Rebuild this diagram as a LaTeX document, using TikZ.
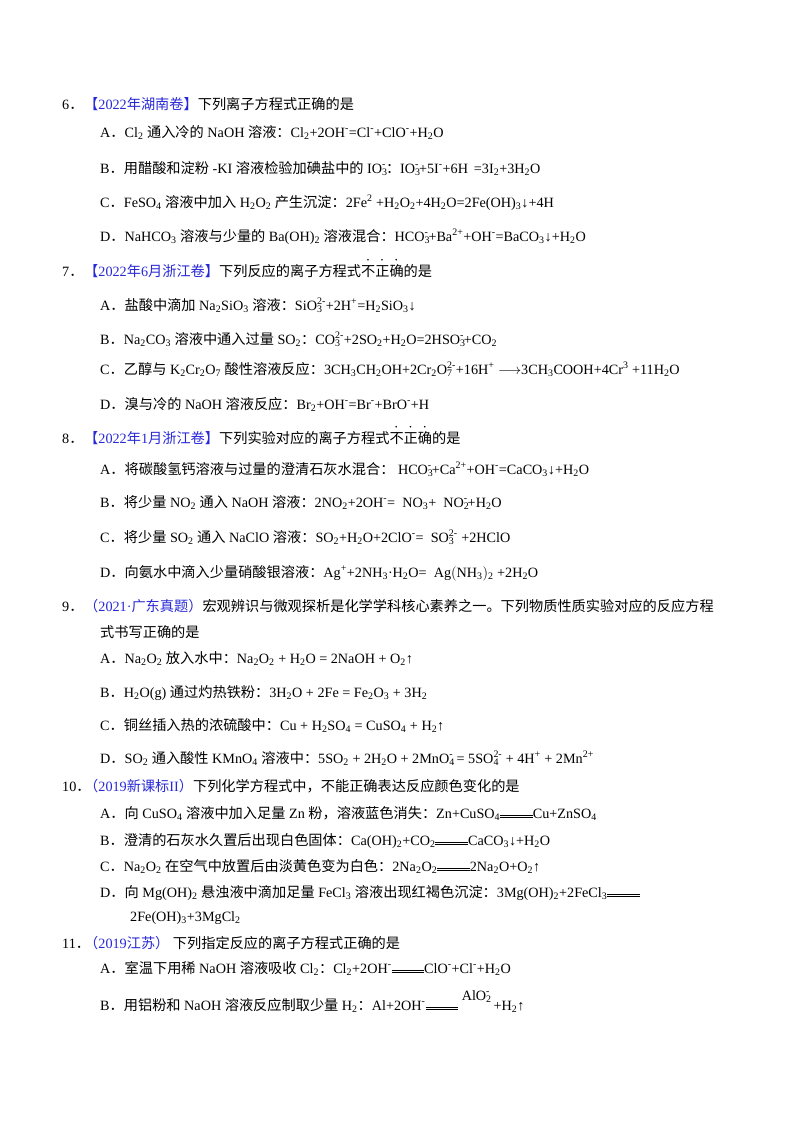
\documentclass[tikz,border=0pt]{standalone}
\usepackage{fontspec}
\setmainfont{Liberation Serif}
\newfontfamily\cjk{Noto Sans CJK SC}
\XeTeXinterchartokenstate=1
\newXeTeXintercharclass\CJKcls
\newcount\cc
\cc="4E00 \loop\XeTeXcharclass\cc=\CJKcls\advance\cc by 1 \ifnum\cc<"9FA6 \repeat
\cc="3000 \loop\XeTeXcharclass\cc=\CJKcls\advance\cc by 1 \ifnum\cc<"3040 \repeat
\cc="FF00 \loop\XeTeXcharclass\cc=\CJKcls\advance\cc by 1 \ifnum\cc<"FFF0 \repeat
\XeTeXinterchartoks 0 \CJKcls = {\cjk}
\XeTeXinterchartoks 4095 \CJKcls = {\cjk}
\XeTeXinterchartoks 255 \CJKcls = {\cjk}
\XeTeXinterchartoks \CJKcls 0 = {\rmfamily}
\XeTeXinterchartoks \CJKcls 4095 = {\rmfamily}
\newcommand\sub[1]{\textsubscript{#1}}
\newcommand\sps[1]{\textsuperscript{#1}}
\newcommand\ion[2]{\rlap{\textsubscript{#1}}\textsuperscript{#2}}
\newcommand\emd[1]{\makebox[0pt][l]{\hspace{0.4em}\raisebox{0.95em}{\fontsize{7}{7}\selectfont\rmfamily\textbullet}}#1}
\newcommand\eqq{\mbox{\rlap{\raisebox{0.42ex}{\rule{2.3em}{0.6pt}}}\raisebox{0.1ex}{\rule{2.3em}{0.6pt}}}}
\definecolor{src}{RGB}{40,40,215}
\tikzset{t/.style={anchor=base west,inner sep=0pt,font=\fontsize{14.2}{16}\selectfont}}
\begin{document}
\begin{tikzpicture}[x=1pt,y=-1pt]
\useasboundingbox (0,0) rectangle (800,1132);
% Q6
\node[t] (n6) at (62,109) {6．};
\node[t] (q6) at (84,109) {\textcolor{src}{【2022年湖南卷】}下列离子方程式正确的是};
\node[t] (q6a) at (100,137) {A．Cl\sub2 通入冷的 NaOH 溶液：Cl\sub2+2OH\sps{-}=Cl\sps{-}+ClO\sps{-}+H\sub2O};
\node[t] (q6b) at (100,173) {B．用醋酸和淀粉 -KI 溶液检验加碘盐中的 IO\ion3{-}：IO\ion3{-}+5I\sps{-}+6H \,=3I\sub2+3H\sub2O};
\node[t] (q6c) at (100,207) {C．FeSO\sub4 溶液中加入 H\sub2O\sub2 产生沉淀：2Fe\sps{2} +H\sub2O\sub2+4H\sub2O=2Fe(OH)\sub3↓+4H};
\node[t] (q6d) at (100,241) {D．NaHCO\sub3 溶液与少量的 Ba(OH)\sub2 溶液混合：HCO\ion3{-}+Ba\sps{2+}+OH\sps{-}=BaCO\sub3↓+H\sub2O};
% Q7
\node[t] (n7) at (62,276) {7．};
\node[t] (q7) at (84,276) {\textcolor{src}{【2022年6月浙江卷】}下列反应的离子方程式\emd{不}\emd{正}\emd{确}的是};
\node[t] (q7a) at (100,310) {A．盐酸中滴加 Na\sub2SiO\sub3 溶液：SiO\ion3{2-}+2H\sps{+}=H\sub2SiO\sub3↓};
\node[t] (q7b) at (100,344) {B．Na\sub2CO\sub3 溶液中通入过量 SO\sub2：CO\ion3{2-}+2SO\sub2+H\sub2O=2HSO\ion3{-}+CO\sub2};
\node[t] (q7c) at (100,374) {C．乙醇与 K\sub2Cr\sub2O\sub7 酸性溶液反应：3CH\sub3CH\sub2OH+2Cr\sub2O\ion7{2-}+16H\sps{+} $\longrightarrow$3CH\sub3COOH+4Cr\sps{3} +11H\sub2O};
\node[t] (q7d) at (100,409) {D．溴与冷的 NaOH 溶液反应：Br\sub2+OH\sps{-}=Br\sps{-}+BrO\sps{-}+H};
% Q8
\node[t] (n8) at (62,443) {8．};
\node[t] (q8) at (84,443) {\textcolor{src}{【2022年1月浙江卷】}下列实验对应的离子方程式\emd{不}\emd{正}\emd{确}的是};
\node[t] (q8a) at (100,474) {A．将碳酸氢钙溶液与过量的澄清石灰水混合：\ \rmfamily HCO\ion3{-}+Ca\sps{2+}+OH\sps{-}=CaCO\sub3↓+H\sub2O};
\node[t] (q8b) at (100,507) {B．将少量 NO\sub2 通入 NaOH 溶液：2NO\sub2+2OH\sps{-}= \ NO\sub3+ \ NO\ion2{-}+H\sub2O};
\node[t] (q8c) at (100,542) {C．将少量 SO\sub2 通入 NaClO 溶液：SO\sub2+H\sub2O+2ClO\sps{-}= \ SO\ion3{2-} +2HClO};
\node[t] (q8d) at (100,577) {D．向氨水中滴入少量硝酸银溶液：Ag\sps{+}+2NH\sub3·H\sub2O= \ Ag$\bigl($NH\sub3$\bigr)$\sub2 +2H\sub2O};
% Q9
\node[t] (n9) at (62,611) {9．};
\node[t] (q9) at (84,611) {\textcolor{src}{（2021·广东真题）}宏观辨识与微观探析是化学学科核心素养之一。下列物质性质实验对应的反应方程};
\node[t] (q9x) at (100,637) {式书写正确的是};
\node[t] (q9a) at (100,663) {A．Na\sub2O\sub2 放入水中：Na\sub2O\sub2 + H\sub2O = 2NaOH + O\sub2↑};
\node[t] (q9b) at (100,697) {B．H\sub2O(g) 通过灼热铁粉：3H\sub2O + 2Fe = Fe\sub2O\sub3 + 3H\sub2};
\node[t] (q9c) at (100,730) {C．铜丝插入热的浓硫酸中：Cu + H\sub2SO\sub4 = CuSO\sub4 + H\sub2↑};
\node[t] (q9d) at (100,763) {D．SO\sub2 通入酸性 KMnO\sub4 溶液中：5SO\sub2 + 2H\sub2O + 2MnO\ion4{-} = 5SO\ion4{2-} + 4H\sps{+} + 2Mn\sps{2+}};
% Q10
\node[t] (n10) at (62,791) {10．};
\node[t] (q10) at (84,791) {\textcolor{src}{（2019新课标II）}下列化学方程式中，不能正确表达反应颜色变化的是};
\node[t] (q10a) at (100,818) {A．向 CuSO\sub4 溶液中加入足量 Zn 粉，溶液蓝色消失：Zn+CuSO\sub4\eqq Cu+ZnSO\sub4};
\node[t] (q10b) at (100,845) {B．澄清的石灰水久置后出现白色固体：Ca(OH)\sub2+CO\sub2\eqq CaCO\sub3↓+H\sub2O};
\node[t] (q10c) at (100,871) {C．Na\sub2O\sub2 在空气中放置后由淡黄色变为白色：2Na\sub2O\sub2\eqq 2Na\sub2O+O\sub2↑};
\node[t] (q10d) at (100,897) {D．向 Mg(OH)\sub2 悬浊液中滴加足量 FeCl\sub3 溶液出现红褐色沉淀：3Mg(OH)\sub2+2FeCl\sub3\eqq};
\node[t] (q10x) at (130,921) {2Fe(OH)\sub3+3MgCl\sub2};
% Q11
\node[t] (n11) at (62,948) {11．};
\node[t] (q11) at (84,948) {\textcolor{src}{（2019江苏）} 下列指定反应的离子方程式正确的是};
\node[t] (q11a) at (100,973) {A．室温下用稀 NaOH 溶液吸收 Cl\sub2：Cl\sub2+2OH\sps{-}\eqq ClO\sps{-}+Cl\sps{-}+H\sub2O};
\node[t] (q11b) at (100,1010) {B．用铝粉和 NaOH 溶液反应制取少量 H\sub2：Al+2OH\sps{-}\eqq\ \raisebox{0.7em}{AlO\ion2{-}} +H\sub2↑};
\end{tikzpicture}
\end{document}
